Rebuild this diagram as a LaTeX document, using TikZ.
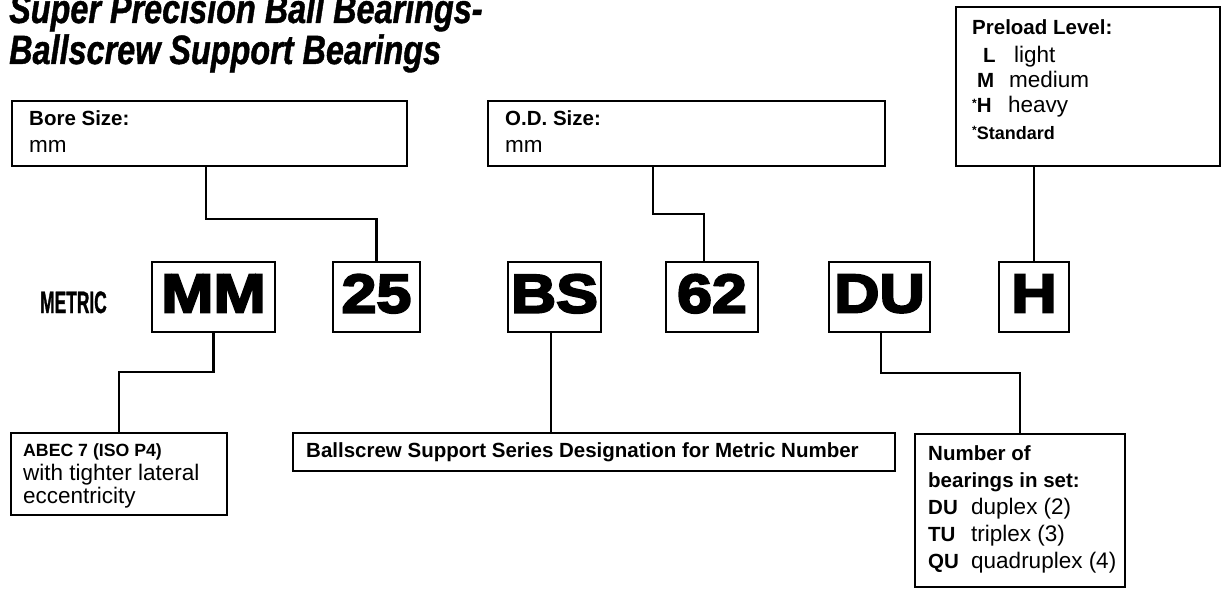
\documentclass[tikz,border=0pt]{standalone}
\usepackage{fontspec}
\setmainfont{Liberation Sans}
\newfontfamily\titlefont[FakeStretch=0.79,FakeBold=1]{Liberation Sans}
\newfontfamily\metricfont[FakeStretch=0.56,FakeBold=1]{Liberation Sans}
\newfontfamily\codefont[FakeStretch=1.15,FakeBold=4]{Liberation Sans}
\usepackage{tikz}

\newcommand\starmark{\raisebox{5pt}{\fontsize{12}{12}\selectfont *}}

\tikzset{
  box/.style={draw=black, line width=2.2pt, inner sep=0pt},
  codebox/.style={box, minimum height=70pt, text depth=7pt,
    font=\codefont\bfseries\fontsize{54.5}{55}\selectfont},
  wire/.style={draw=black, line width=2.2pt},
  txt/.style={anchor=base west, inner sep=0pt},
  bold/.style={txt, font=\bfseries\fontsize{20.5}{24}\selectfont},
  plain/.style={txt, font=\fontsize{22.5}{26}\selectfont},
}

\begin{document}
\begin{tikzpicture}[x=1pt,y=-1pt]
\useasboundingbox (0,0) rectangle (1225,596);
% title
\node[txt, font=\titlefont\bfseries\itshape\fontsize{41}{42}\selectfont] (title1) at (9,23) {Super Precision Ball Bearings-};
\node[txt, font=\titlefont\bfseries\itshape\fontsize{41}{42}\selectfont] (title2) at (9,64) {Ballscrew Support Bearings};

% upper boxes
\node[box, minimum width=395pt, minimum height=65pt] (bore) at (209.5,133.5) {};
\node[bold] (boreT) at (29,126) {Bore Size:};
\node[plain] (boreU) at (29,153) {mm};
\node[box, minimum width=397pt, minimum height=65pt] (od) at (686.5,133.5) {};
\node[bold] (odT) at (505,126) {O.D. Size:};
\node[plain] (odU) at (505,153) {mm};
\node[box, minimum width=264pt, minimum height=159pt] (preload) at (1088,86.5) {};
\node[bold] (preT) at (972,35) {Preload Level:};
\foreach \lvl/\lx/\desc/\dx/\y in {L/983/light/1014/63, M/977/medium/1009/88} {
    \node[bold] (pre\lvl) at (\lx,\y) {\lvl};
    \node[plain] (preD\lvl) at (\dx,\y) {\desc};
}
\node[bold] (preH) at (972,113) {\starmark H};
\node[plain] (preDH) at (1008,113) {heavy};
\node[bold, font=\bfseries\fontsize{18}{20}\selectfont] (preStd) at (972,140) {\starmark Standard};

% code row
\node[txt, font=\metricfont\bfseries\fontsize{31}{32}\selectfont] (metric) at (40,313) {METRIC};
\foreach \code/\x/\w in {MM/213.5/123, 25/376.5/87, BS/554.5/93, 62/712/92, DU/879.5/101, H/1034/70} {
    \node[codebox, minimum width=\w pt] (c\code) at (\x,297) {\code};
}

% lower boxes
\node[box, minimum width=216pt, minimum height=82pt] (abec) at (119,474) {};
\node[bold, font=\bfseries\fontsize{17.7}{20}\selectfont] (abecT) at (23,456) {ABEC 7 (ISO P4)};
\node[plain] (abecA) at (23,480) {with tighter lateral};
\node[plain] (abecB) at (23,503) {eccentricity};
\node[box, minimum width=602pt, minimum height=38pt] (series) at (594,452) {};
\node[bold] (seriesT) at (306,457) {Ballscrew Support Series Designation for Metric Number};
\node[box, minimum width=210pt, minimum height=153pt] (number) at (1020,510.5) {};
\node[bold] (numA) at (928,460) {Number of};
\node[bold] (numB) at (928,487) {bearings in set:};
\foreach \set/\desc/\y in {DU/duplex (2)/514, TU/triplex (3)/541, QU/quadruplex (4)/568} {
    \node[bold] (num\set) at (928,\y) {\set};
    \node[plain] (numD\set) at (971,\y) {\desc};
}

% connectors
\draw[wire] ([xshift=-3.5pt]bore.south) -- ++(0,52) -| (c25.north);
\draw[wire] ([xshift=-33.5pt]od.south) -- ++(0,47) -| ([xshift=-8pt]c62.north);
\draw[wire] (preload.south -| cH.north) -- (cH.north);
\draw[wire] (cMM.south) -- ++(0,39) -| (abec.north);
\draw[wire] ([xshift=-3.5pt]cBS.south) -- ([xshift=-3.5pt]cBS.south |- series.north);
\draw[wire] ([xshift=1.5pt]cDU.south) -- ++(0,40) -| (number.north);
\end{tikzpicture}
\end{document}
